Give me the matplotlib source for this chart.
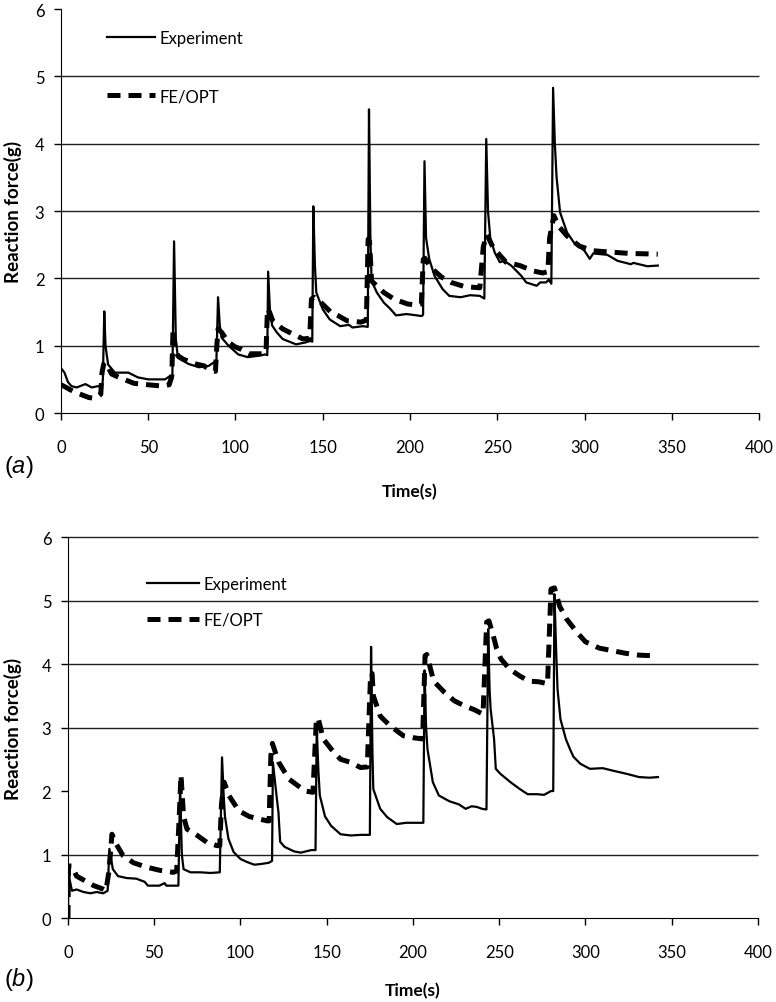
import matplotlib
matplotlib.use("Agg")
import matplotlib.pyplot as plt

plt.rcParams['font.family'] = ['Lato', 'DejaVu Sans']
plt.rcParams['mathtext.fontset'] = 'custom'
plt.rcParams['mathtext.rm'] = 'Liberation Sans'
plt.rcParams['mathtext.it'] = 'Liberation Sans:italic'

# ---- panel (a) ----
a_exp_time = [0.5, 2, 4, 6, 9, 11, 14, 17.6, 21.4, 23.5, 24, 24.8, 25.5, 27, 30.9, 38.6, 44, 50,
              59.6, 62.5, 63.8, 64.8, 65.8, 67, 73, 79, 84.6, 87.5, 89, 90, 91, 92, 96, 101.6,
              107, 113, 117, 118.2, 118.7, 119.8, 121, 123.6, 127, 134.7, 140.4, 142.5, 144,
              144.6, 145.5, 146.3, 150, 154, 160, 165, 167, 173, 175.8, 176.5, 177.3, 178, 181,
              185, 188.6, 192, 198, 204, 206.6, 207.5, 208.3, 209.2, 211, 214, 218.7, 222.5,
              229, 234.5, 240, 242.6, 243.7, 244.7, 246, 248.6, 251.5, 254, 258, 263.7, 266.6,
              272.6, 274.6, 278, 279.5, 281, 282, 283, 284, 286, 290, 294, 300, 303, 305, 313,
              319, 326.6, 328, 336, 342]
a_exp_force = [0.65, 0.6, 0.46, 0.4, 0.38, 0.4, 0.43, 0.38, 0.4, 0.38, 0.5, 1.51, 1.0, 0.72, 0.6,
               0.6, 0.53, 0.5, 0.5, 0.55, 0.5, 2.55, 1.1, 0.82, 0.73, 0.68, 0.7, 0.75, 0.72, 1.72,
               1.3, 1.12, 1.0, 0.87, 0.83, 0.85, 0.87, 0.86, 2.1, 1.5, 1.3, 1.2, 1.1, 1.02, 1.05,
               1.07, 1.06, 3.07, 2.2, 1.79, 1.54, 1.39, 1.29, 1.31, 1.27, 1.29, 1.28, 4.51, 2.6,
               1.96, 1.79, 1.64, 1.55, 1.45, 1.47, 1.45, 1.44, 1.46, 3.74, 2.6, 2.29, 2.04, 1.84,
               1.74, 1.72, 1.75, 1.74, 1.7, 4.07, 3.0, 2.6, 2.38, 2.24, 2.26, 2.19, 2.04, 1.94,
               1.89, 1.94, 1.94, 1.98, 1.92, 4.83, 4.0, 3.5, 2.98, 2.68, 2.53, 2.41, 2.29, 2.37,
               2.35, 2.26, 2.21, 2.23, 2.18, 2.19]

a_fe_time = [0, 3, 5, 8, 12, 16, 19, 21, 22.8, 23.5, 24.5, 25.5, 27, 29, 34, 42, 50, 58, 62,
             63.5, 64.2, 65.5, 67, 70, 77, 82, 86, 88.5, 89.3, 90, 92, 96, 100, 103, 108, 115,
             117.5, 118.3, 119.5, 121.3, 127, 133, 138.7, 142.5, 143.5, 145, 149, 154.6, 158.5,
             164, 172, 175, 176, 176.8, 178, 185, 191, 198.6, 204.4, 206.5, 207.6, 208.5, 212,
             218, 223.5, 231, 235, 240, 242, 244, 247.6, 255, 263, 270.6, 276, 279, 280, 282.5,
             285, 290, 297, 305, 315, 326, 342]
a_fe_force = [0.42, 0.38, 0.35, 0.31, 0.27, 0.23, 0.22, 0.24, 0.28, 0.6, 0.73, 0.75, 0.68, 0.58,
              0.52, 0.44, 0.42, 0.4, 0.42, 0.55, 1.25, 0.95, 0.85, 0.8, 0.73, 0.7, 0.63, 0.62,
              1.0, 1.25, 1.2, 1.05, 0.98, 0.95, 0.88, 0.88, 0.9, 1.55, 1.5, 1.37, 1.25, 1.17,
              1.1, 1.11, 1.69, 1.72, 1.64, 1.5, 1.45, 1.37, 1.35, 1.38, 2.58, 2.55, 1.96, 1.79,
              1.69, 1.62, 1.6, 1.62, 2.28, 2.3, 2.16, 2.02, 1.94, 1.88, 1.87, 1.86, 2.47, 2.65,
              2.46, 2.24, 2.19, 2.11, 2.08, 2.1, 2.6, 2.93, 2.78, 2.63, 2.48, 2.41, 2.39, 2.37,
              2.36]

# ---- panel (b) ----
b_exp_time = [0, 0.3, 1, 2.3, 5, 9, 13, 16.6, 20.5, 23, 24, 26, 29, 34, 39.6, 44.5, 46.3, 53,
              56, 57, 64, 65, 66, 67, 71, 76.8, 82.5, 88, 89.3, 90.3, 91, 93, 96, 100, 104, 108,
              111.6, 116.4, 118.3, 118.8, 121, 122, 123, 125.6, 131, 135, 141, 143.5, 144.2,
              145.2, 146, 149, 152.6, 158, 164, 169.6, 175, 175.7, 176.5, 177, 181, 185, 190.6,
              196, 204, 206, 206.7, 207.6, 208.4, 211.5, 215, 221, 226.6, 230.5, 234, 237, 240,
              242.6, 243.6, 244.4, 245, 247, 248, 250.7, 256.5, 262, 266.5, 272, 276, 280,
              281.3, 282, 283, 283.8, 285.5, 288.6, 291, 293, 297, 302.5, 310, 316, 324, 331,
              337, 342]
b_exp_force = [0, 0.82, 0.6, 0.43, 0.45, 0.41, 0.39, 0.41, 0.39, 0.43, 1.09, 0.77, 0.66, 0.63,
               0.62, 0.57, 0.51, 0.51, 0.55, 0.51, 0.51, 2.1, 1.0, 0.77, 0.72, 0.72, 0.71, 0.72,
               2.53, 1.9, 1.6, 1.25, 1.04, 0.93, 0.88, 0.84, 0.85, 0.87, 0.9, 2.45, 1.9, 1.67,
               1.2, 1.12, 1.05, 1.03, 1.07, 1.07, 3.0, 2.3, 1.93, 1.6, 1.45, 1.32, 1.3, 1.31,
               1.31, 4.27, 2.6, 2.03, 1.72, 1.59, 1.48, 1.5, 1.5, 1.5, 3.9, 3.0, 2.66, 2.14,
               1.93, 1.84, 1.79, 1.72, 1.76, 1.75, 1.72, 1.71, 4.55, 3.6, 3.29, 2.82, 2.35, 2.27,
               2.14, 2.03, 1.95, 1.95, 1.94, 2.0, 2.0, 5.1, 4.2, 3.6, 3.13, 2.82, 2.66, 2.54,
               2.43, 2.35, 2.36, 2.32, 2.27, 2.22, 2.21, 2.22]

b_fe_time = [0, 0.3, 2.3, 5, 11, 15, 20, 22, 23.6, 24.5, 25.5, 27.4, 32, 38, 45.8, 53.5, 61, 63,
             64.5, 65.5, 67, 69, 75, 80.6, 86.4, 88, 89, 90.5, 93.3, 99, 105, 110.6, 115.6,
             116.6, 117.6, 118.5, 122, 128, 133.5, 137.5, 142, 144, 145, 148, 152.6, 158, 164,
             169.6, 173.5, 175.4, 176.3, 177, 181, 187, 194.5, 200, 205.6, 207, 208, 212, 218,
             224, 230, 235.6, 240.6, 242.7, 244, 246.6, 248.5, 251, 256, 262, 267.4, 273, 278,
             280, 282, 285, 289, 295, 300, 308, 315.6, 323, 331, 339]
b_fe_force = [0, 0.82, 0.82, 0.66, 0.57, 0.51, 0.46, 0.43, 0.71, 0.98, 1.32, 1.19, 0.98, 0.87,
              0.8, 0.75, 0.72, 0.74, 1.6, 2.25, 1.6, 1.4, 1.3, 1.19, 1.14, 1.14, 1.8, 2.14, 1.93,
              1.69, 1.6, 1.56, 1.53, 1.53, 2.55, 2.75, 2.46, 2.19, 2.08, 2.0, 1.98, 3.13, 3.15,
              2.82, 2.66, 2.5, 2.45, 2.37, 2.38, 3.82, 3.85, 3.5, 3.18, 3.02, 2.87, 2.84, 2.82,
              4.13, 4.15, 3.73, 3.56, 3.42, 3.34, 3.28, 3.21, 4.66, 4.68, 4.44, 4.24, 4.08, 3.92,
              3.81, 3.73, 3.72, 3.69, 5.18, 5.2, 4.91, 4.71, 4.5, 4.35, 4.25, 4.21, 4.17, 4.14,
              4.13]

x_ticks = [0, 50, 100, 150, 200, 250, 300, 350, 400]
y_ticks = [0, 1, 2, 3, 4, 5, 6]
grid_a = [1, 2, 3, 4, 5]
grid_b = [1, 3, 4, 5, 6]


def draw_panel(ax, exp_t, exp_f, fe_t, fe_f, grid_levels, leg_anchor, leg_spacing, leg_handle):
    """
    Draws one force/time panel with experiment and FE/OPT curves.
    """
    ax.hlines(grid_levels, 0, 400, color='#222222', lw=1.0, zorder=1, clip_on=False)
    ax.plot(exp_t, exp_f, color='black', lw=1.6, label='Experiment', zorder=3)
    ax.plot(fe_t, fe_f, color='black', lw=3.6, dashes=(2.6, 1.6), label='FE/OPT', zorder=4)

    ax.set_xlim(0, 400)
    ax.set_ylim(0, 6)
    ax.set_xticks(x_ticks)
    ax.set_yticks(y_ticks)
    ax.spines['top'].set_visible(False)
    ax.spines['right'].set_visible(False)
    ax.tick_params(axis='x', direction='out', length=5, width=1, pad=14, labelsize=12)
    ax.tick_params(axis='y', direction='out', length=5, width=1, pad=7, labelsize=12)

    ax.set_xlabel('Time(s)', fontsize=12.5, fontweight='bold')
    ax.set_ylabel('Reaction force(g)', fontsize=13.5, fontweight='bold')

    ax.legend(loc='upper left', bbox_to_anchor=leg_anchor, frameon=False, fontsize=12,
              borderaxespad=0, borderpad=0, handlelength=leg_handle, handletextpad=0.3,
              labelspacing=leg_spacing)


fig = plt.figure(figsize=(7.76, 10.03), dpi=100)

ax_a = fig.add_axes([0.0786, 0.5872, 0.8995, 0.4028])
draw_panel(ax_a, a_exp_time, a_exp_force, a_fe_time, a_fe_force, grid_a, (0.066, 0.949), 2.55, 2.85)
ax_a.yaxis.set_label_coords(-0.056, 0.5)
ax_a.xaxis.set_label_coords(0.5, -0.173)

ax_b = fig.add_axes([0.0876, 0.0837, 0.8892, 0.3799])
draw_panel(ax_b, b_exp_time, b_exp_force, b_fe_time, b_fe_force, grid_b, (0.1145, 0.897), 1.15, 3.1)
ax_b.yaxis.set_label_coords(-0.066, 0.5)
ax_b.xaxis.set_label_coords(0.5, -0.169)

fig.text(0.005, 1 - 467 / 1003, r'$\mathrm{(}a\mathrm{)}$', fontsize=17, va='center', ha='left')
fig.text(0.005, 1 - 980 / 1003, r'$\mathrm{(}b\mathrm{)}$', fontsize=17, va='center', ha='left')

fig.savefig('out.png', dpi=100)
plt.close(fig)
